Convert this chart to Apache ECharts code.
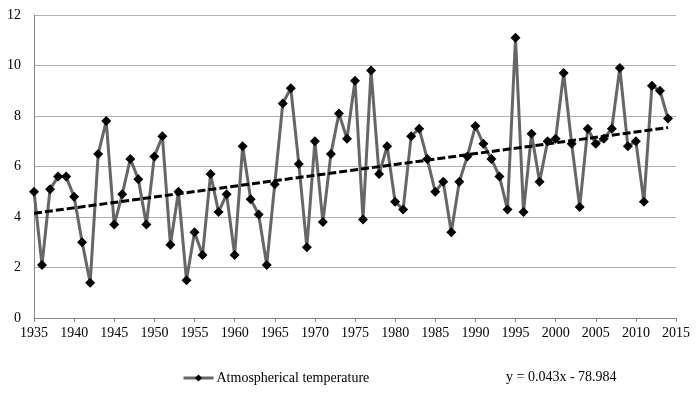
<!DOCTYPE html>
<html><head><meta charset="utf-8">
<script src="https://cdn.jsdelivr.net/npm/echarts@6/dist/echarts.min.js"></script>
<style>html,body{margin:0;padding:0;background:#fff}#c{width:700px;height:397px}</style>
</head><body><div id="c"></div>
<script>
const startYear = 1935;
const temperature = [
  5.0, 2.1, 5.1, 5.6, 5.6, 4.8, 3.0, 1.4, 6.5, 7.8,
  3.7, 4.9, 6.3, 5.5, 3.7, 6.4, 7.2, 2.9, 5.0, 1.5,
  3.4, 2.5, 5.7, 4.2, 4.9, 2.5, 6.8, 4.7, 4.1, 2.1,
  5.3, 8.5, 9.1, 6.1, 2.8, 7.0, 3.8, 6.5, 8.1, 7.1,
  9.4, 3.9, 9.8, 5.7, 6.8, 4.6, 4.3, 7.2, 7.5, 6.3,
  5.0, 5.4, 3.4, 5.4, 6.4, 7.6, 6.9, 6.3, 5.6, 4.3,
  11.1, 4.2, 7.3, 5.4, 7.0, 7.1, 9.7, 6.9, 4.4, 7.5,
  6.9, 7.1, 7.5, 9.9, 6.8, 7.0, 4.6, 9.2, 9.0, 7.9
];
const years = temperature.map((_, i) => startYear + i);
const seriesName = 'Atmospherical temperature';
const equationText = 'y = 0.043x - 78.984';

const pts = years.map((y, i) => [y, temperature[i]]);
// least-squares trend line from the data
const n = pts.length;
const mx = years.reduce((a, b) => a + b, 0) / n;
const my = temperature.reduce((a, b) => a + b, 0) / n;
let sxy = 0, sxx = 0;
for (let i = 0; i < n; i++) { sxy += (years[i] - mx) * (temperature[i] - my); sxx += (years[i] - mx) ** 2; }
const slope = sxy / sxx, icpt = my - slope * mx;
const trend = [[years[0], slope * years[0] + icpt], [years[n - 1], slope * years[n - 1] + icpt]];

const font = 'Liberation Serif';
const chart = echarts.init(document.getElementById('c'), null, { renderer: 'canvas' });
chart.setOption({
  animation: false,
  textStyle: { fontFamily: font },
  grid: { left: 34, right: 24, top: 15, bottom: 79, containLabel: false },
  xAxis: {
    type: 'value', min: 1935, max: 2015, interval: 5,
    axisLine: { show: true, lineStyle: { color: '#888', width: 1 } },
    axisTick: { show: true, length: 4, lineStyle: { color: '#888' } },
    axisLabel: { color: '#000', fontSize: 14, fontFamily: font, margin: 8, formatter: v => String(v) },
    splitLine: { show: false }
  },
  yAxis: {
    type: 'value', min: 0, max: 12, interval: 2,
    axisLine: { show: true, lineStyle: { color: '#888', width: 1 } },
    axisTick: { show: false },
    axisLabel: { color: '#000', fontSize: 14, fontFamily: font, margin: 13 },
    splitLine: { show: true, lineStyle: { color: '#b0b0b0', width: 1 } }
  },
  legend: {
    show: true, left: 182, top: 371, padding: 0, itemWidth: 30, itemHeight: 9, itemGap: 4,
    data: [{ name: seriesName, lineStyle: { color: '#666', width: 3, opacity: 1 }, itemStyle: { color: '#000' } }],
    textStyle: { color: '#000', fontSize: 14, fontFamily: font, padding: [0, 0, 0, -2] }
  },
  graphic: [{
    type: 'text', left: 506, top: 370,
    style: { text: equationText, fill: '#000', font: '14px "' + font + '"' }
  }],
  series: [
    {
      name: seriesName, type: 'line', data: pts,
      lineStyle: { color: '#666', width: 3 },
      itemStyle: { color: '#000', borderWidth: 0 },
      symbol: 'diamond', symbolSize: 10, showSymbol: true, z: 3
    },
    {
      name: 'trend', type: 'line', data: trend,
      lineStyle: { color: '#000', width: 3, type: [8, 3] },
      symbol: 'none', z: 4, silent: true
    }
  ]
});
</script></body></html>
